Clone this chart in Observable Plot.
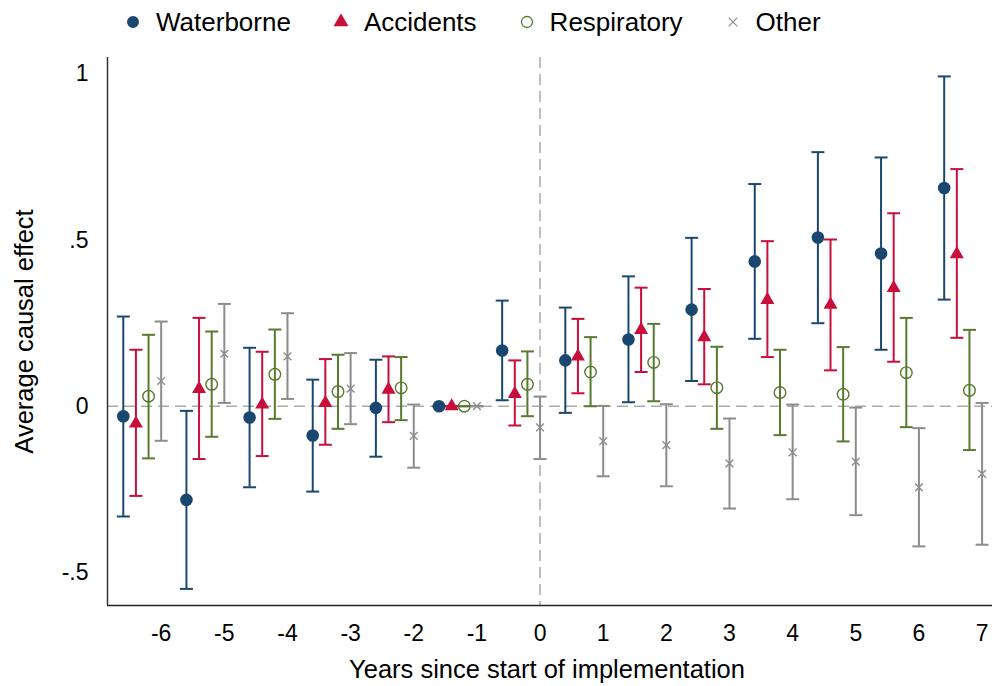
<!DOCTYPE html>
<html>
<head>
<meta charset="utf-8">
<script src="https://cdn.jsdelivr.net/npm/d3@7"></script>
<script src="https://cdn.jsdelivr.net/npm/@observablehq/plot@0.6"></script>
<style>
  html, body { margin: 0; padding: 0; background: #fff; }
  #chart { width: 992px; height: 686px; font-family: "Liberation Sans", Arial, sans-serif; color: #000; }
  #legend { height: 44px; display: flex; align-items: center; padding-left: 125px; font-size: 26px; }
  #legend .item { display: flex; align-items: center; margin-right: 42px; }
  #legend .item svg { margin-right: 15px; }
</style>
</head>
<body>
<div id="chart"><div id="legend"></div></div>
<script>
// Event-study estimates with 95% confidence intervals, by cause group
const years = [-6, -5, -4, -3, -2, -1, 0, 1, 2, 3, 4, 5, 6, 7];

const waterborneEst = [-0.030, -0.282, -0.034, -0.088, -0.005, 0, 0.168, 0.138, 0.201, 0.291, 0.436, 0.508, 0.460, 0.657];
const waterborneLo  = [-0.332, -0.550, -0.244, -0.257, -0.152, 0, 0.018, -0.020, 0.012, 0.076, 0.203, 0.250, 0.170, 0.321];
const waterborneHi  = [0.270, -0.014, 0.176, 0.080, 0.140, 0, 0.318, 0.297, 0.391, 0.507, 0.669, 0.765, 0.749, 0.993];

const accidentsEst = [-0.052, 0.052, 0.005, 0.010, 0.050, 0, 0.037, 0.150, 0.230, 0.208, 0.320, 0.306, 0.356, 0.458];
const accidentsLo  = [-0.270, -0.159, -0.150, -0.116, -0.048, 0, -0.058, 0.039, 0.103, 0.066, 0.148, 0.108, 0.134, 0.206];
const accidentsHi  = [0.170, 0.266, 0.164, 0.142, 0.150, 0, 0.138, 0.263, 0.357, 0.353, 0.497, 0.502, 0.581, 0.714];

const respiratoryEst = [0.030, 0.066, 0.096, 0.044, 0.055, 0, 0.066, 0.103, 0.132, 0.056, 0.041, 0.036, 0.101, 0.048];
const respiratoryLo  = [-0.157, -0.092, -0.038, -0.068, -0.042, 0, -0.030, 0.000, 0.015, -0.068, -0.087, -0.106, -0.063, -0.132];
const respiratoryHi  = [0.215, 0.225, 0.231, 0.155, 0.148, 0, 0.165, 0.208, 0.248, 0.179, 0.170, 0.178, 0.266, 0.230];

const otherEst = [0.076, 0.158, 0.150, 0.053, -0.089, 0, -0.064, -0.105, -0.117, -0.172, -0.139, -0.167, -0.244, -0.204];
const otherLo  = [-0.104, 0.010, 0.022, -0.054, -0.185, 0, -0.159, -0.211, -0.241, -0.308, -0.280, -0.328, -0.422, -0.417];
const otherHi  = [0.255, 0.308, 0.280, 0.160, 0.005, 0, 0.029, 0.001, 0.006, -0.037, 0.005, -0.004, -0.066, 0.010];

const xTicks = [-6, -5, -4, -3, -2, -1, 0, 1, 2, 3, 4, 5, 6, 7];
const yTicks = [-0.5, 0, 0.5, 1];

const xLabel = "Years since start of implementation";
const yLabel = "Average causal effect";

// Series appearance; each group is dodged to the left of its year
const series = [
  {name: "Waterborne", est: waterborneEst, lo: waterborneLo, hi: waterborneHi, dodge: -0.6, color: "#1a476f",
   marker: {symbol: "circle", r: 6.3, fill: "#1a476f"}, key: {type: d3.symbolCircle, size: 113, fill: true}},
  {name: "Accidents", est: accidentsEst, lo: accidentsLo, hi: accidentsHi, dodge: -0.4, color: "#c80f3c",
   marker: {symbol: "triangle", r: 5.2, fill: "#c80f3c"}, key: {type: d3.symbolTriangle, size: 97, fill: true}},
  {name: "Respiratory", est: respiratoryEst, lo: respiratoryLo, hi: respiratoryHi, dodge: -0.2, color: "#587a2e",
   marker: {symbol: "circle", r: 5.8, fill: "none", stroke: "#587a2e", strokeWidth: 1.4}, key: {type: d3.symbolCircle, size: 95, fill: false, width: 1.3}},
  {name: "Other", est: otherEst, lo: otherLo, hi: otherHi, dodge: 0, color: "#8c8c8c",
   marker: {symbol: "times", r: 3.6, fill: "none", stroke: "#8c8c8c", strokeWidth: 1.4}, key: {type: d3.symbolTimes, size: 50, fill: false, width: 1.2}}
];

// Horizontal cap for the confidence-interval whiskers
const capSymbol = {
  draw(context, size) {
    const w = Math.sqrt(size / Math.PI);
    context.moveTo(-w, 0);
    context.lineTo(w, 0);
  }
};

const marks = [
  Plot.ruleY([0], {stroke: "#ababab", strokeWidth: 1.5, strokeDasharray: "11,6"}),
  Plot.ruleX([0], {stroke: "#ababab", strokeWidth: 1.5, strokeDasharray: "11,6"})
];

for (const s of series) {
  const rows = years.map((yr, i) => ({year: yr, x: yr + s.dodge, est: s.est[i], lo: s.lo[i], hi: s.hi[i]}));
  marks.push(
    Plot.ruleX(rows, {x: "x", y1: "lo", y2: "hi", stroke: s.color, strokeWidth: 2}),
    Plot.dot(rows, {x: "x", y: "lo", symbol: capSymbol, r: 6.5, fill: "none", stroke: s.color, strokeWidth: 2}),
    Plot.dot(rows, {x: "x", y: "hi", symbol: capSymbol, r: 6.5, fill: "none", stroke: s.color, strokeWidth: 2}),
    Plot.dot(rows, {x: "x", y: "est", ...s.marker})
  );
}

const fmt = d => String(d).replace("0.", ".");

marks.push(
  Plot.ruleX([-6.85], {stroke: "#333", strokeWidth: 1.5}),
  Plot.ruleY([-0.6], {stroke: "#222", strokeWidth: 1.5}),
  Plot.axisY({ticks: yTicks, tickFormat: fmt, tickSize: 0, tickPadding: 19, fontSize: 23, label: null}),
  Plot.axisX({ticks: xTicks, tickFormat: d => String(d), tickSize: 0, tickPadding: 19, fontSize: 23, label: null}),
  Plot.text([yLabel], {frameAnchor: "left", rotate: -90, dx: -83, textAnchor: "middle", lineAnchor: "middle", fontSize: 25.5, fill: "#000"}),
  Plot.text([xLabel], {frameAnchor: "bottom", dy: 64, dx: -3, textAnchor: "middle", lineAnchor: "middle", fontSize: 25.5, fill: "#000"})
);

const chart = Plot.plot({
  width: 992,
  height: 642,
  marginLeft: 107,
  marginRight: 0,
  marginTop: 13,
  marginBottom: 81,
  x: {domain: [-6.85, 7.165]},
  y: {domain: [-0.6, 1.05]},
  style: {fontFamily: "'Liberation Sans', Arial, sans-serif", background: "#fff", color: "#000", overflow: "visible"},
  marks
});

// Legend row above the plot
const legend = d3.select("#legend");
for (const s of series) {
  const item = legend.append("div").attr("class", "item");
  const svg = item.append("svg").attr("width", 16).attr("height", 16);
  svg.append("path")
    .attr("transform", "translate(8,8)")
    .attr("d", d3.symbol(s.key.type, s.key.size)())
    .attr("fill", s.key.fill ? s.color : "none")
    .attr("stroke", s.key.fill ? "none" : s.color)
    .attr("stroke-width", s.key.width || 0);
  item.append("span").text(s.name);
}

document.getElementById("chart").appendChild(chart);
</script>
</body>
</html>
